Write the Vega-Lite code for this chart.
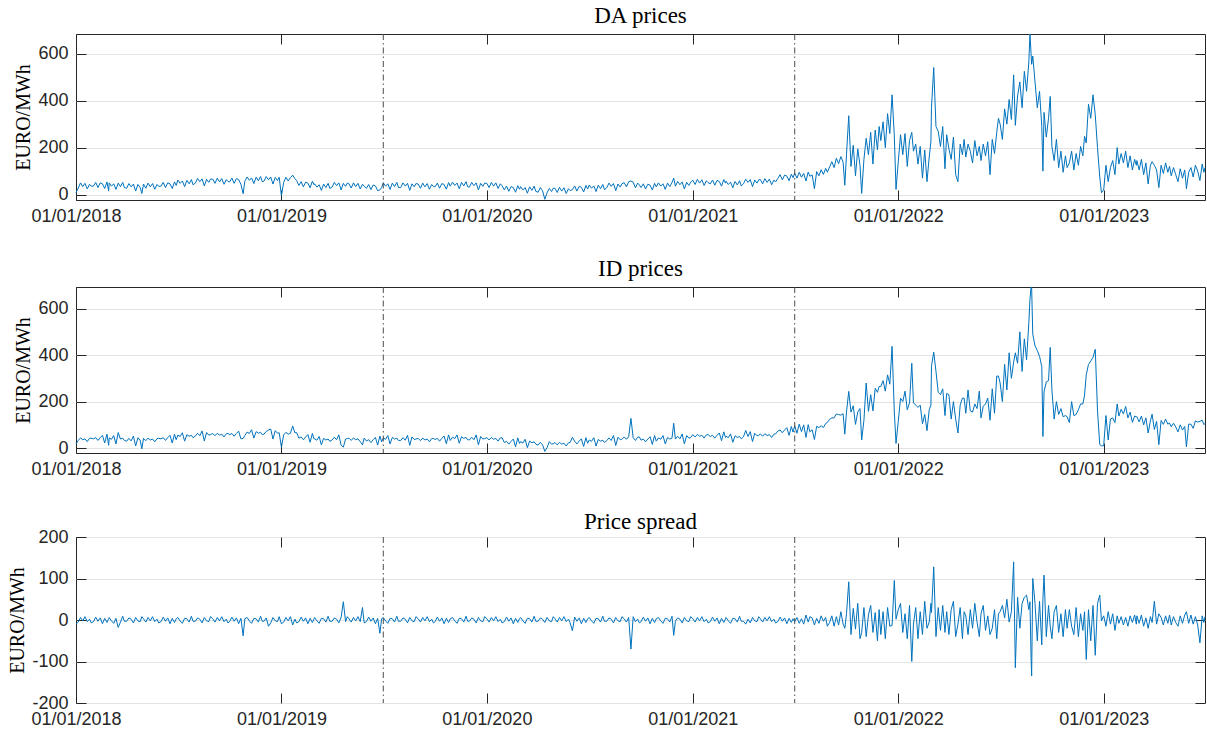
{
"$schema":"https://vega.github.io/schema/vega-lite/v6.json",
"background":"white",
"padding":{"left":7,"top":4,"right":1,"bottom":0},
"spacing":31,
"datasets":{
"vl":[{"t":"2019-07-01"},{"t":"2021-07-01"}],
"z":[{"v":0}],
"m":[
{"d":"2018-01-01","a":8,"b":18,"c":-10},{"d":"2018-01-05","a":28,"b":33,"c":-5},{"d":"2018-01-09","a":50,"b":44,"c":6},{"d":"2018-01-13","a":34,"b":36,"c":-2},{"d":"2018-01-17","a":48,"b":40,"c":8},{"d":"2018-01-21","a":24,"b":28,"c":-4},{"d":"2018-01-25","a":44,"b":42,"c":2},{"d":"2018-01-28","a":36,"b":43,"c":-7},
{"d":"2018-02-01","a":36,"b":40,"c":-4},{"d":"2018-02-05","a":52,"b":45,"c":7},{"d":"2018-02-09","a":30,"b":33,"c":-3},{"d":"2018-02-13","a":50,"b":45,"c":5},{"d":"2018-02-17","a":46,"b":55,"c":-9},{"d":"2018-02-21","a":26,"b":22,"c":4},{"d":"2018-02-25","a":54,"b":60,"c":-6},{"d":"2018-02-28","a":15,"b":12,"c":3},
{"d":"2018-03-01","a":50,"b":44,"c":6},{"d":"2018-03-05","a":36,"b":38,"c":-2},{"d":"2018-03-09","a":46,"b":54,"c":-8},{"d":"2018-03-13","a":22,"b":18,"c":4},{"d":"2018-03-17","a":49,"b":67,"c":-18},{"d":"2018-03-21","a":34,"b":39,"c":-5},{"d":"2018-03-25","a":52,"b":43,"c":9},{"d":"2018-03-28","a":30,"b":33,"c":-3},
{"d":"2018-04-01","a":27,"b":30,"c":-3},{"d":"2018-04-05","a":47,"b":42,"c":5},{"d":"2018-04-09","a":33,"b":31,"c":2},{"d":"2018-04-13","a":45,"b":52,"c":-7},{"d":"2018-04-17","a":15,"b":9,"c":6},{"d":"2018-04-21","a":43,"b":45,"c":-2},{"d":"2018-04-25","a":30,"b":34,"c":-4},{"d":"2018-04-28","a":5,"b":-3,"c":8},
{"d":"2018-05-01","a":45,"b":42,"c":3},{"d":"2018-05-05","a":27,"b":32,"c":-5},{"d":"2018-05-09","a":49,"b":43,"c":6},{"d":"2018-05-13","a":33,"b":35,"c":-2},{"d":"2018-05-17","a":47,"b":39,"c":8},{"d":"2018-05-21","a":23,"b":27,"c":-4},{"d":"2018-05-25","a":43,"b":41,"c":2},{"d":"2018-05-28","a":35,"b":42,"c":-7},
{"d":"2018-06-01","a":36,"b":40,"c":-4},{"d":"2018-06-05","a":52,"b":45,"c":7},{"d":"2018-06-09","a":30,"b":33,"c":-3},{"d":"2018-06-13","a":50,"b":45,"c":5},{"d":"2018-06-17","a":46,"b":55,"c":-9},{"d":"2018-06-21","a":26,"b":22,"c":4},{"d":"2018-06-25","a":54,"b":60,"c":-6},{"d":"2018-06-28","a":39,"b":36,"c":3},
{"d":"2018-07-01","a":62,"b":56,"c":6},{"d":"2018-07-05","a":48,"b":50,"c":-2},{"d":"2018-07-09","a":58,"b":66,"c":-8},{"d":"2018-07-13","a":34,"b":30,"c":4},{"d":"2018-07-17","a":61,"b":58,"c":3},{"d":"2018-07-21","a":46,"b":51,"c":-5},{"d":"2018-07-25","a":64,"b":55,"c":9},{"d":"2018-07-28","a":42,"b":45,"c":-3},
{"d":"2018-08-01","a":49,"b":52,"c":-3},{"d":"2018-08-05","a":69,"b":64,"c":5},{"d":"2018-08-09","a":55,"b":53,"c":2},{"d":"2018-08-13","a":67,"b":74,"c":-7},{"d":"2018-08-17","a":37,"b":31,"c":6},{"d":"2018-08-21","a":65,"b":67,"c":-2},{"d":"2018-08-25","a":52,"b":56,"c":-4},{"d":"2018-08-28","a":66,"b":58,"c":8},
{"d":"2018-09-01","a":66,"b":63,"c":3},{"d":"2018-09-05","a":48,"b":53,"c":-5},{"d":"2018-09-09","a":70,"b":64,"c":6},{"d":"2018-09-13","a":54,"b":56,"c":-2},{"d":"2018-09-17","a":68,"b":60,"c":8},{"d":"2018-09-21","a":44,"b":48,"c":-4},{"d":"2018-09-25","a":64,"b":62,"c":2},{"d":"2018-09-28","a":56,"b":63,"c":-7},
{"d":"2018-10-01","a":54,"b":58,"c":-4},{"d":"2018-10-05","a":70,"b":63,"c":7},{"d":"2018-10-09","a":48,"b":51,"c":-3},{"d":"2018-10-13","a":68,"b":63,"c":5},{"d":"2018-10-17","a":64,"b":73,"c":-9},{"d":"2018-10-21","a":44,"b":40,"c":4},{"d":"2018-10-25","a":4,"b":42,"c":-38},{"d":"2018-10-28","a":57,"b":54,"c":3},
{"d":"2018-11-01","a":75,"b":69,"c":6},{"d":"2018-11-05","a":61,"b":63,"c":-2},{"d":"2018-11-09","a":71,"b":79,"c":-8},{"d":"2018-11-13","a":47,"b":43,"c":4},{"d":"2018-11-17","a":74,"b":71,"c":3},{"d":"2018-11-21","a":59,"b":64,"c":-5},{"d":"2018-11-25","a":77,"b":68,"c":9},{"d":"2018-11-28","a":55,"b":58,"c":-3},
{"d":"2018-12-01","a":57,"b":60,"c":-3},{"d":"2018-12-05","a":77,"b":72,"c":5},{"d":"2018-12-09","a":63,"b":78,"c":-15},{"d":"2018-12-13","a":75,"b":82,"c":-7},{"d":"2018-12-17","a":45,"b":39,"c":6},{"d":"2018-12-21","a":73,"b":75,"c":-2},{"d":"2018-12-25","a":60,"b":64,"c":-4},{"d":"2018-12-28","a":74,"b":66,"c":8},
{"d":"2019-01-01","a":-5,"b":4,"c":-9},{"d":"2019-01-05","a":52,"b":57,"c":-5},{"d":"2019-01-09","a":74,"b":68,"c":6},{"d":"2019-01-13","a":58,"b":60,"c":-2},{"d":"2019-01-17","a":72,"b":64,"c":8},{"d":"2019-01-21","a":83,"b":95,"c":-12},{"d":"2019-01-25","a":68,"b":66,"c":2},{"d":"2019-01-28","a":60,"b":67,"c":-7},
{"d":"2019-02-01","a":39,"b":43,"c":-4},{"d":"2019-02-05","a":55,"b":48,"c":7},{"d":"2019-02-09","a":33,"b":36,"c":-3},{"d":"2019-02-13","a":53,"b":48,"c":5},{"d":"2019-02-17","a":49,"b":58,"c":-9},{"d":"2019-02-21","a":29,"b":25,"c":4},{"d":"2019-02-25","a":57,"b":63,"c":-6},{"d":"2019-02-28","a":42,"b":39,"c":3},
{"d":"2019-03-01","a":46,"b":40,"c":6},{"d":"2019-03-05","a":32,"b":34,"c":-2},{"d":"2019-03-09","a":42,"b":50,"c":-8},{"d":"2019-03-13","a":18,"b":14,"c":4},{"d":"2019-03-17","a":45,"b":42,"c":3},{"d":"2019-03-21","a":30,"b":35,"c":-5},{"d":"2019-03-25","a":48,"b":39,"c":9},{"d":"2019-03-28","a":26,"b":29,"c":-3},
{"d":"2019-04-01","a":32,"b":35,"c":-3},{"d":"2019-04-05","a":52,"b":47,"c":5},{"d":"2019-04-09","a":38,"b":36,"c":2},{"d":"2019-04-13","a":50,"b":57,"c":-7},{"d":"2019-04-17","a":20,"b":14,"c":6},{"d":"2019-04-21","a":48,"b":4,"c":44},{"d":"2019-04-25","a":35,"b":39,"c":-4},{"d":"2019-04-28","a":49,"b":41,"c":8},
{"d":"2019-05-01","a":46,"b":43,"c":3},{"d":"2019-05-05","a":28,"b":33,"c":-5},{"d":"2019-05-09","a":50,"b":44,"c":6},{"d":"2019-05-13","a":34,"b":36,"c":-2},{"d":"2019-05-17","a":48,"b":40,"c":8},{"d":"2019-05-21","a":24,"b":28,"c":-4},{"d":"2019-05-25","a":44,"b":14,"c":30},{"d":"2019-05-28","a":36,"b":43,"c":-7},
{"d":"2019-06-01","a":27,"b":31,"c":-4},{"d":"2019-06-05","a":43,"b":36,"c":7},{"d":"2019-06-09","a":21,"b":24,"c":-3},{"d":"2019-06-13","a":41,"b":36,"c":5},{"d":"2019-06-17","a":37,"b":46,"c":-9},{"d":"2019-06-21","a":17,"b":13,"c":4},{"d":"2019-06-25","a":20,"b":52,"c":-32},{"d":"2019-06-28","a":30,"b":27,"c":3},
{"d":"2019-07-01","a":50,"b":44,"c":6},{"d":"2019-07-05","a":36,"b":38,"c":-2},{"d":"2019-07-09","a":46,"b":54,"c":-8},{"d":"2019-07-13","a":22,"b":18,"c":4},{"d":"2019-07-17","a":49,"b":46,"c":3},{"d":"2019-07-21","a":34,"b":39,"c":-5},{"d":"2019-07-25","a":52,"b":43,"c":9},{"d":"2019-07-28","a":30,"b":33,"c":-3},
{"d":"2019-08-01","a":30,"b":33,"c":-3},{"d":"2019-08-05","a":50,"b":45,"c":5},{"d":"2019-08-09","a":36,"b":34,"c":2},{"d":"2019-08-13","a":48,"b":55,"c":-7},{"d":"2019-08-17","a":18,"b":12,"c":6},{"d":"2019-08-21","a":46,"b":48,"c":-2},{"d":"2019-08-25","a":33,"b":37,"c":-4},{"d":"2019-08-28","a":47,"b":39,"c":8},
{"d":"2019-09-01","a":45,"b":42,"c":3},{"d":"2019-09-05","a":27,"b":32,"c":-5},{"d":"2019-09-09","a":49,"b":43,"c":6},{"d":"2019-09-13","a":33,"b":35,"c":-2},{"d":"2019-09-17","a":47,"b":39,"c":8},{"d":"2019-09-21","a":23,"b":27,"c":-4},{"d":"2019-09-25","a":43,"b":41,"c":2},{"d":"2019-09-28","a":35,"b":42,"c":-7},
{"d":"2019-10-01","a":33,"b":37,"c":-4},{"d":"2019-10-05","a":49,"b":42,"c":7},{"d":"2019-10-09","a":27,"b":30,"c":-3},{"d":"2019-10-13","a":47,"b":42,"c":5},{"d":"2019-10-17","a":43,"b":52,"c":-9},{"d":"2019-10-21","a":23,"b":19,"c":4},{"d":"2019-10-25","a":51,"b":57,"c":-6},{"d":"2019-10-28","a":36,"b":33,"c":3},
{"d":"2019-11-01","a":53,"b":47,"c":6},{"d":"2019-11-05","a":39,"b":41,"c":-2},{"d":"2019-11-09","a":49,"b":57,"c":-8},{"d":"2019-11-13","a":25,"b":21,"c":4},{"d":"2019-11-17","a":52,"b":49,"c":3},{"d":"2019-11-21","a":37,"b":42,"c":-5},{"d":"2019-11-25","a":55,"b":46,"c":9},{"d":"2019-11-28","a":33,"b":36,"c":-3},
{"d":"2019-12-01","a":32,"b":35,"c":-3},{"d":"2019-12-05","a":52,"b":47,"c":5},{"d":"2019-12-09","a":38,"b":36,"c":2},{"d":"2019-12-13","a":50,"b":57,"c":-7},{"d":"2019-12-17","a":20,"b":14,"c":6},{"d":"2019-12-21","a":48,"b":50,"c":-2},{"d":"2019-12-25","a":35,"b":39,"c":-4},{"d":"2019-12-28","a":49,"b":41,"c":8},
{"d":"2020-01-01","a":48,"b":45,"c":3},{"d":"2020-01-05","a":30,"b":35,"c":-5},{"d":"2020-01-09","a":52,"b":46,"c":6},{"d":"2020-01-13","a":36,"b":38,"c":-2},{"d":"2020-01-17","a":50,"b":42,"c":8},{"d":"2020-01-21","a":26,"b":30,"c":-4},{"d":"2020-01-25","a":46,"b":44,"c":2},{"d":"2020-01-28","a":38,"b":45,"c":-7},
{"d":"2020-02-01","a":20,"b":24,"c":-4},{"d":"2020-02-05","a":36,"b":29,"c":7},{"d":"2020-02-09","a":14,"b":17,"c":-3},{"d":"2020-02-13","a":34,"b":29,"c":5},{"d":"2020-02-17","a":30,"b":39,"c":-9},{"d":"2020-02-21","a":10,"b":6,"c":4},{"d":"2020-02-25","a":38,"b":44,"c":-6},{"d":"2020-02-28","a":23,"b":20,"c":3},
{"d":"2020-03-01","a":34,"b":28,"c":6},{"d":"2020-03-05","a":20,"b":22,"c":-2},{"d":"2020-03-09","a":30,"b":38,"c":-8},{"d":"2020-03-13","a":6,"b":2,"c":4},{"d":"2020-03-17","a":33,"b":30,"c":3},{"d":"2020-03-21","a":18,"b":23,"c":-5},{"d":"2020-03-25","a":36,"b":27,"c":9},{"d":"2020-03-28","a":14,"b":17,"c":-3},
{"d":"2020-04-01","a":10,"b":13,"c":-3},{"d":"2020-04-05","a":30,"b":25,"c":5},{"d":"2020-04-09","a":16,"b":14,"c":2},{"d":"2020-04-13","a":-20,"b":-14,"c":-6},{"d":"2020-04-17","a":8,"b":2,"c":6},{"d":"2020-04-21","a":26,"b":28,"c":-2},{"d":"2020-04-25","a":13,"b":17,"c":-4},{"d":"2020-04-28","a":27,"b":19,"c":8},
{"d":"2020-05-01","a":27,"b":24,"c":3},{"d":"2020-05-05","a":9,"b":14,"c":-5},{"d":"2020-05-09","a":31,"b":25,"c":6},{"d":"2020-05-13","a":15,"b":17,"c":-2},{"d":"2020-05-17","a":29,"b":21,"c":8},{"d":"2020-05-21","a":5,"b":9,"c":-4},{"d":"2020-05-25","a":25,"b":23,"c":2},{"d":"2020-05-28","a":17,"b":24,"c":-7},
{"d":"2020-06-01","a":21,"b":47,"c":-26},{"d":"2020-06-05","a":37,"b":30,"c":7},{"d":"2020-06-09","a":15,"b":18,"c":-3},{"d":"2020-06-13","a":35,"b":30,"c":5},{"d":"2020-06-17","a":31,"b":40,"c":-9},{"d":"2020-06-21","a":11,"b":7,"c":4},{"d":"2020-06-25","a":39,"b":45,"c":-6},{"d":"2020-06-28","a":24,"b":21,"c":3},
{"d":"2020-07-01","a":41,"b":35,"c":6},{"d":"2020-07-05","a":27,"b":29,"c":-2},{"d":"2020-07-09","a":37,"b":45,"c":-8},{"d":"2020-07-13","a":13,"b":9,"c":4},{"d":"2020-07-17","a":40,"b":37,"c":3},{"d":"2020-07-21","a":25,"b":30,"c":-5},{"d":"2020-07-25","a":43,"b":34,"c":9},{"d":"2020-07-28","a":21,"b":24,"c":-3},
{"d":"2020-08-01","a":29,"b":32,"c":-3},{"d":"2020-08-05","a":49,"b":44,"c":5},{"d":"2020-08-09","a":35,"b":33,"c":2},{"d":"2020-08-13","a":47,"b":54,"c":-7},{"d":"2020-08-17","a":17,"b":11,"c":6},{"d":"2020-08-21","a":45,"b":47,"c":-2},{"d":"2020-08-25","a":32,"b":36,"c":-4},{"d":"2020-08-28","a":46,"b":38,"c":8},
{"d":"2020-09-01","a":51,"b":48,"c":3},{"d":"2020-09-05","a":33,"b":38,"c":-5},{"d":"2020-09-09","a":55,"b":49,"c":6},{"d":"2020-09-13","a":58,"b":128,"c":-70},{"d":"2020-09-17","a":53,"b":45,"c":8},{"d":"2020-09-21","a":29,"b":33,"c":-4},{"d":"2020-09-25","a":49,"b":47,"c":2},{"d":"2020-09-28","a":41,"b":48,"c":-7},
{"d":"2020-10-01","a":30,"b":34,"c":-4},{"d":"2020-10-05","a":46,"b":39,"c":7},{"d":"2020-10-09","a":24,"b":27,"c":-3},{"d":"2020-10-13","a":44,"b":39,"c":5},{"d":"2020-10-17","a":40,"b":49,"c":-9},{"d":"2020-10-21","a":20,"b":16,"c":4},{"d":"2020-10-25","a":48,"b":54,"c":-6},{"d":"2020-10-28","a":33,"b":30,"c":3},
{"d":"2020-11-01","a":50,"b":44,"c":6},{"d":"2020-11-05","a":36,"b":38,"c":-2},{"d":"2020-11-09","a":46,"b":54,"c":-8},{"d":"2020-11-13","a":22,"b":18,"c":4},{"d":"2020-11-17","a":49,"b":46,"c":3},{"d":"2020-11-21","a":34,"b":39,"c":-5},{"d":"2020-11-25","a":52,"b":43,"c":9},{"d":"2020-11-28","a":70,"b":107,"c":-37},
{"d":"2020-12-01","a":36,"b":39,"c":-3},{"d":"2020-12-05","a":56,"b":51,"c":5},{"d":"2020-12-09","a":42,"b":40,"c":2},{"d":"2020-12-13","a":54,"b":61,"c":-7},{"d":"2020-12-17","a":24,"b":18,"c":6},{"d":"2020-12-21","a":52,"b":54,"c":-2},{"d":"2020-12-25","a":39,"b":43,"c":-4},{"d":"2020-12-28","a":53,"b":45,"c":8},
{"d":"2021-01-01","a":61,"b":58,"c":3},{"d":"2021-01-05","a":43,"b":48,"c":-5},{"d":"2021-01-09","a":65,"b":59,"c":6},{"d":"2021-01-13","a":49,"b":51,"c":-2},{"d":"2021-01-17","a":63,"b":55,"c":8},{"d":"2021-01-21","a":39,"b":43,"c":-4},{"d":"2021-01-25","a":59,"b":57,"c":2},{"d":"2021-01-28","a":51,"b":58,"c":-7},
{"d":"2021-02-01","a":46,"b":50,"c":-4},{"d":"2021-02-05","a":62,"b":55,"c":7},{"d":"2021-02-09","a":40,"b":43,"c":-3},{"d":"2021-02-13","a":60,"b":55,"c":5},{"d":"2021-02-17","a":56,"b":65,"c":-9},{"d":"2021-02-21","a":36,"b":32,"c":4},{"d":"2021-02-25","a":64,"b":70,"c":-6},{"d":"2021-02-28","a":49,"b":46,"c":3},
{"d":"2021-03-01","a":57,"b":51,"c":6},{"d":"2021-03-05","a":43,"b":45,"c":-2},{"d":"2021-03-09","a":53,"b":61,"c":-8},{"d":"2021-03-13","a":29,"b":25,"c":4},{"d":"2021-03-17","a":56,"b":53,"c":3},{"d":"2021-03-21","a":41,"b":46,"c":-5},{"d":"2021-03-25","a":59,"b":50,"c":9},{"d":"2021-03-28","a":37,"b":40,"c":-3},
{"d":"2021-04-01","a":46,"b":49,"c":-3},{"d":"2021-04-05","a":66,"b":76,"c":-10},{"d":"2021-04-09","a":52,"b":50,"c":2},{"d":"2021-04-13","a":64,"b":71,"c":-7},{"d":"2021-04-17","a":34,"b":28,"c":6},{"d":"2021-04-21","a":62,"b":64,"c":-2},{"d":"2021-04-25","a":49,"b":53,"c":-4},{"d":"2021-04-28","a":63,"b":55,"c":8},
{"d":"2021-05-01","a":64,"b":61,"c":3},{"d":"2021-05-05","a":46,"b":51,"c":-5},{"d":"2021-05-09","a":68,"b":62,"c":6},{"d":"2021-05-13","a":52,"b":54,"c":-2},{"d":"2021-05-17","a":66,"b":58,"c":8},{"d":"2021-05-21","a":42,"b":46,"c":-4},{"d":"2021-05-25","a":62,"b":60,"c":2},{"d":"2021-05-28","a":54,"b":61,"c":-7},
{"d":"2021-06-01","a":69,"b":73,"c":-4},{"d":"2021-06-05","a":85,"b":78,"c":7},{"d":"2021-06-09","a":63,"b":66,"c":-3},{"d":"2021-06-13","a":83,"b":78,"c":5},{"d":"2021-06-17","a":79,"b":88,"c":-9},{"d":"2021-06-21","a":59,"b":55,"c":4},{"d":"2021-06-25","a":87,"b":93,"c":-6},{"d":"2021-06-28","a":72,"b":69,"c":3},
{"d":"2021-07-01","a":92,"b":96,"c":-4},{"d":"2021-07-05","a":70,"b":64,"c":6},{"d":"2021-07-09","a":95,"b":103,"c":-8},{"d":"2021-07-13","a":74,"b":71,"c":3},{"d":"2021-07-17","a":90,"b":100,"c":-10},{"d":"2021-07-21","a":58,"b":46,"c":12},{"d":"2021-07-25","a":96,"b":101,"c":-5},{"d":"2021-07-28","a":78,"b":70,"c":8},
{"d":"2021-08-01","a":84,"b":79,"c":5},{"d":"2021-08-05","a":25,"b":37,"c":-12},{"d":"2021-08-09","a":98,"b":94,"c":4},{"d":"2021-08-13","a":80,"b":88,"c":-8},{"d":"2021-08-17","a":106,"b":96,"c":10},{"d":"2021-08-21","a":86,"b":89,"c":-3},{"d":"2021-08-25","a":112,"b":106,"c":6},{"d":"2021-08-28","a":95,"b":110,"c":-15},
{"d":"2021-09-01","a":118,"b":124,"c":-6},{"d":"2021-09-05","a":140,"b":130,"c":10},{"d":"2021-09-09","a":115,"b":130,"c":-15},{"d":"2021-09-13","a":155,"b":147,"c":8},{"d":"2021-09-17","a":132,"b":144,"c":-12},{"d":"2021-09-21","a":162,"b":142,"c":20},{"d":"2021-09-25","a":138,"b":148,"c":-10},{"d":"2021-09-28","a":40,"b":60,"c":-20},
{"d":"2021-10-01","a":170,"b":155,"c":15},{"d":"2021-10-05","a":336,"b":244,"c":92},{"d":"2021-10-09","a":120,"b":155,"c":-35},{"d":"2021-10-13","a":210,"b":182,"c":28},{"d":"2021-10-17","a":80,"b":102,"c":-22},{"d":"2021-10-21","a":195,"b":155,"c":40},{"d":"2021-10-25","a":125,"b":170,"c":-45},{"d":"2021-10-28","a":5,"b":35,"c":-30},
{"d":"2021-11-01","a":150,"b":120,"c":30},{"d":"2021-11-05","a":240,"b":280,"c":-40},{"d":"2021-11-09","a":170,"b":158,"c":12},{"d":"2021-11-13","a":265,"b":230,"c":35},{"d":"2021-11-17","a":130,"b":160,"c":-30},{"d":"2021-11-21","a":275,"b":257,"c":18},{"d":"2021-11-25","a":190,"b":240,"c":-50},{"d":"2021-11-28","a":290,"b":265,"c":25},
{"d":"2021-12-01","a":230,"b":265,"c":-35},{"d":"2021-12-05","a":310,"b":290,"c":20},{"d":"2021-12-09","a":200,"b":245,"c":-45},{"d":"2021-12-13","a":345,"b":315,"c":30},{"d":"2021-12-17","a":260,"b":275,"c":-15},{"d":"2021-12-21","a":425,"b":438,"c":-13},{"d":"2021-12-25","a":250,"b":155,"c":95},{"d":"2021-12-28","a":22,"b":20,"c":2},
{"d":"2022-01-01","a":140,"b":115,"c":25},{"d":"2022-01-05","a":255,"b":215,"c":40},{"d":"2022-01-09","a":170,"b":200,"c":-30},{"d":"2022-01-13","a":260,"b":245,"c":15},{"d":"2022-01-17","a":120,"b":165,"c":-45},{"d":"2022-01-21","a":230,"b":195,"c":35},{"d":"2022-01-25","a":265,"b":365,"c":-100},{"d":"2022-01-28","a":185,"b":195,"c":-10},
{"d":"2022-02-01","a":215,"b":185,"c":30},{"d":"2022-02-05","a":130,"b":175,"c":-45},{"d":"2022-02-09","a":205,"b":185,"c":20},{"d":"2022-02-13","a":70,"b":105,"c":-35},{"d":"2022-02-17","a":190,"b":145,"c":45},{"d":"2022-02-21","a":55,"b":75,"c":-20},{"d":"2022-02-25","a":160,"b":165,"c":-5},{"d":"2022-02-28","a":225,"b":185,"c":40},
{"d":"2022-03-01","a":370,"b":352,"c":18},{"d":"2022-03-05","a":541,"b":413,"c":128},{"d":"2022-03-09","a":290,"b":330,"c":-40},{"d":"2022-03-13","a":270,"b":240,"c":30},{"d":"2022-03-17","a":205,"b":230,"c":-25},{"d":"2022-03-21","a":290,"b":255,"c":35},{"d":"2022-03-25","a":110,"b":140,"c":-30},{"d":"2022-03-28","a":255,"b":235,"c":20},
{"d":"2022-04-01","a":195,"b":230,"c":-35},{"d":"2022-04-05","a":150,"b":125,"c":25},{"d":"2022-04-09","a":245,"b":200,"c":45},{"d":"2022-04-13","a":85,"b":125,"c":-40},{"d":"2022-04-17","a":55,"b":65,"c":-10},{"d":"2022-04-21","a":215,"b":185,"c":30},{"d":"2022-04-25","a":170,"b":215,"c":-45},{"d":"2022-04-28","a":235,"b":215,"c":20},
{"d":"2022-05-01","a":160,"b":150,"c":10},{"d":"2022-05-05","a":215,"b":250,"c":-35},{"d":"2022-05-09","a":185,"b":160,"c":25},{"d":"2022-05-13","a":135,"b":155,"c":-20},{"d":"2022-05-17","a":230,"b":190,"c":40},{"d":"2022-05-21","a":165,"b":170,"c":-5},{"d":"2022-05-25","a":205,"b":245,"c":-40},{"d":"2022-05-28","a":145,"b":130,"c":15},
{"d":"2022-06-01","a":215,"b":180,"c":35},{"d":"2022-06-05","a":165,"b":190,"c":-25},{"d":"2022-06-09","a":225,"b":215,"c":10},{"d":"2022-06-13","a":85,"b":120,"c":-35},{"d":"2022-06-17","a":235,"b":255,"c":-20},{"d":"2022-06-21","a":175,"b":150,"c":25},{"d":"2022-06-25","a":265,"b":310,"c":-45},{"d":"2022-06-28","a":325,"b":310,"c":15},
{"d":"2022-07-01","a":300,"b":280,"c":20},{"d":"2022-07-05","a":235,"b":200,"c":35},{"d":"2022-07-09","a":365,"b":360,"c":5},{"d":"2022-07-13","a":300,"b":250,"c":50},{"d":"2022-07-17","a":405,"b":410,"c":-5},{"d":"2022-07-21","a":320,"b":300,"c":20},{"d":"2022-07-25","a":510,"b":370,"c":140},{"d":"2022-07-28","a":295,"b":410,"c":-115},
{"d":"2022-08-01","a":420,"b":365,"c":55},{"d":"2022-08-05","a":480,"b":500,"c":-20},{"d":"2022-08-09","a":370,"b":330,"c":40},{"d":"2022-08-13","a":525,"b":470,"c":55},{"d":"2022-08-17","a":440,"b":380,"c":60},{"d":"2022-08-21","a":565,"b":540,"c":25},{"d":"2022-08-23","a":684,"b":640,"c":44},{"d":"2022-08-25","a":600,"b":693,"c":-93},{"d":"2022-08-26","a":555,"b":690,"c":-135},{"d":"2022-08-28","a":590,"b":490,"c":100},
{"d":"2022-09-01","a":480,"b":440,"c":40},{"d":"2022-09-05","a":370,"b":420,"c":-50},{"d":"2022-09-09","a":440,"b":395,"c":45},{"d":"2022-09-13","a":290,"b":350,"c":-60},{"d":"2022-09-15","a":100,"b":50,"c":50},{"d":"2022-09-17","a":350,"b":242,"c":108},{"d":"2022-09-21","a":245,"b":285,"c":-40},{"d":"2022-09-25","a":325,"b":290,"c":35},{"d":"2022-09-28","a":418,"b":433,"c":-15},
{"d":"2022-10-01","a":205,"b":250,"c":-45},{"d":"2022-10-05","a":145,"b":125,"c":20},{"d":"2022-10-09","a":235,"b":200,"c":35},{"d":"2022-10-13","a":115,"b":145,"c":-30},{"d":"2022-10-17","a":185,"b":170,"c":15},{"d":"2022-10-21","a":95,"b":135,"c":-40},{"d":"2022-10-25","a":165,"b":140,"c":25},{"d":"2022-10-28","a":115,"b":135,"c":-20},
{"d":"2022-11-01","a":135,"b":110,"c":25},{"d":"2022-11-05","a":185,"b":200,"c":-15},{"d":"2022-11-09","a":105,"b":140,"c":-35},{"d":"2022-11-13","a":175,"b":145,"c":30},{"d":"2022-11-17","a":125,"b":165,"c":-40},{"d":"2022-11-21","a":205,"b":190,"c":15},{"d":"2022-11-25","a":165,"b":190,"c":-25},{"d":"2022-11-28","a":248,"b":228,"c":20},
{"d":"2022-12-01","a":220,"b":315,"c":-95},{"d":"2022-12-05","a":385,"b":360,"c":25},{"d":"2022-12-09","a":325,"b":375,"c":-50},{"d":"2022-12-13","a":425,"b":390,"c":35},{"d":"2022-12-17","a":340,"b":425,"c":-85},{"d":"2022-12-21","a":200,"b":160,"c":40},{"d":"2022-12-25","a":75,"b":15,"c":60},{"d":"2022-12-28","a":8,"b":10,"c":-2},
{"d":"2023-01-01","a":20,"b":10,"c":10},{"d":"2023-01-05","a":125,"b":140,"c":-15},{"d":"2023-01-09","a":55,"b":35,"c":20},{"d":"2023-01-13","a":115,"b":125,"c":-10},{"d":"2023-01-17","a":145,"b":130,"c":15},{"d":"2023-01-21","a":85,"b":110,"c":-25},{"d":"2023-01-25","a":200,"b":190,"c":10},{"d":"2023-01-28","a":130,"b":138,"c":-8},
{"d":"2023-02-01","a":175,"b":167,"c":8},{"d":"2023-02-05","a":135,"b":147,"c":-12},{"d":"2023-02-09","a":185,"b":179,"c":6},{"d":"2023-02-13","a":115,"b":130,"c":-15},{"d":"2023-02-17","a":165,"b":155,"c":10},{"d":"2023-02-21","a":105,"b":111,"c":-6},{"d":"2023-02-25","a":150,"b":138,"c":12},{"d":"2023-02-28","a":125,"b":135,"c":-10},
{"d":"2023-03-01","a":145,"b":135,"c":10},{"d":"2023-03-05","a":105,"b":113,"c":-8},{"d":"2023-03-09","a":150,"b":138,"c":12},{"d":"2023-03-13","a":85,"b":100,"c":-15},{"d":"2023-03-17","a":135,"b":130,"c":5},{"d":"2023-03-21","a":45,"b":65,"c":-20},{"d":"2023-03-25","a":125,"b":117,"c":8},{"d":"2023-03-28","a":140,"b":146,"c":-6},
{"d":"2023-04-01","a":125,"b":80,"c":45},{"d":"2023-04-05","a":105,"b":115,"c":-10},{"d":"2023-04-09","a":30,"b":15,"c":15},{"d":"2023-04-13","a":125,"b":119,"c":6},{"d":"2023-04-17","a":90,"b":102,"c":-12},{"d":"2023-04-21","a":135,"b":125,"c":10},{"d":"2023-04-25","a":95,"b":103,"c":-8},{"d":"2023-04-28","a":120,"b":108,"c":12},
{"d":"2023-05-01","a":80,"b":92,"c":-12},{"d":"2023-05-05","a":115,"b":107,"c":8},{"d":"2023-05-09","a":85,"b":91,"c":-6},{"d":"2023-05-13","a":55,"b":70,"c":-15},{"d":"2023-05-17","a":110,"b":100,"c":10},{"d":"2023-05-21","a":70,"b":78,"c":-8},{"d":"2023-05-25","a":105,"b":93,"c":12},{"d":"2023-05-28","a":25,"b":5,"c":20},
{"d":"2023-06-01","a":95,"b":103,"c":-8},{"d":"2023-06-05","a":115,"b":103,"c":12},{"d":"2023-06-09","a":75,"b":85,"c":-10},{"d":"2023-06-13","a":125,"b":117,"c":8},{"d":"2023-06-17","a":100,"b":112,"c":-12},{"d":"2023-06-21","a":60,"b":115,"c":-55},{"d":"2023-06-25","a":130,"b":120,"c":10},{"d":"2023-06-28","a":95,"b":101,"c":-6},{"d":"2023-06-30","a":115,"b":107,"c":8}
]},
"config":{
"view":{"stroke":"#262626","strokeWidth":1},
"font":"Liberation Sans",
"title":{"font":"Liberation Serif","fontSize":23,"fontWeight":"normal","color":"#000000","offset":4,"anchor":"middle"},
"axis":{"labelFont":"Liberation Sans","labelFontSize":18,"labelColor":"#262626","tickColor":"#262626","tickWidth":1,"titleFont":"Liberation Serif","titleFontSize":20,"titleFontWeight":"normal","titleColor":"#000000","domain":false,"labelFlush":false,"labelOverlap":false}
},
"vconcat":[
{"width":1129,"height":166,"title":"DA prices",
"layer":[
{"data":{"name":"m"},"mark":{"type":"line","color":"#0072BD","strokeWidth":1},
"encoding":{
"x":{"field":"d","type":"temporal","scale":{"type":"utc","domain":[{"year":2018,"month":1,"date":1,"utc":true},{"year":2023,"month":6,"date":30,"utc":true}]},"axis":{"orient":"bottom","values":[{"year":2018,"month":1,"date":1,"utc":true},{"year":2019,"month":1,"date":1,"utc":true},{"year":2020,"month":1,"date":1,"utc":true},{"year":2021,"month":1,"date":1,"utc":true},{"year":2022,"month":1,"date":1,"utc":true},{"year":2023,"month":1,"date":1,"utc":true}],"labelExpr":"utcFormat(datum.value, '%d/%m/%Y')","tickSize":-10,"labelPadding":17,"grid":false,"title":null}},
"y":{"field":"a","type":"quantitative","scale":{"domain":[-23,684],"nice":false,"zero":false},"axis":{"orient":"left","values":[0,200,400,600],"labelExpr":"'' + datum.value","tickSize":-10,"labelPadding":18,"grid":true,"gridColor":"#e3e3e3","title":"EURO/MWh","titlePadding":4}}}},
{"data":{"name":"vl"},"mark":{"type":"rule","color":"#4d4d4d","strokeWidth":1,"strokeDash":[6,3,1.5,3]},
"encoding":{"x":{"field":"t","type":"temporal","scale":{"type":"utc","domain":[{"year":2018,"month":1,"date":1,"utc":true},{"year":2023,"month":6,"date":30,"utc":true}]},"axis":{"orient":"top","values":[{"year":2018,"month":1,"date":1,"utc":true},{"year":2019,"month":1,"date":1,"utc":true},{"year":2020,"month":1,"date":1,"utc":true},{"year":2021,"month":1,"date":1,"utc":true},{"year":2022,"month":1,"date":1,"utc":true},{"year":2023,"month":1,"date":1,"utc":true}],"tickSize":-10,"labels":false,"grid":false,"title":null}}}},
{"data":{"name":"z"},"mark":{"type":"rule","opacity":0},
"encoding":{"y":{"field":"v","type":"quantitative","scale":{"domain":[-23,684],"nice":false,"zero":false},"axis":{"orient":"right","values":[0,200,400,600],"tickSize":-10,"labels":false,"grid":false,"title":null}}}}
],
"resolve":{"axis":{"x":"independent","y":"independent"}}},
{"width":1129,"height":166,"title":"ID prices",
"layer":[
{"data":{"name":"m"},"mark":{"type":"line","color":"#0072BD","strokeWidth":1},
"encoding":{
"x":{"field":"d","type":"temporal","scale":{"type":"utc","domain":[{"year":2018,"month":1,"date":1,"utc":true},{"year":2023,"month":6,"date":30,"utc":true}]},"axis":{"orient":"bottom","values":[{"year":2018,"month":1,"date":1,"utc":true},{"year":2019,"month":1,"date":1,"utc":true},{"year":2020,"month":1,"date":1,"utc":true},{"year":2021,"month":1,"date":1,"utc":true},{"year":2022,"month":1,"date":1,"utc":true},{"year":2023,"month":1,"date":1,"utc":true}],"labelExpr":"utcFormat(datum.value, '%d/%m/%Y')","tickSize":-10,"labelPadding":17,"grid":false,"title":null}},
"y":{"field":"b","type":"quantitative","scale":{"domain":[-21,693],"nice":false,"zero":false},"axis":{"orient":"left","values":[0,200,400,600],"labelExpr":"'' + datum.value","tickSize":-10,"labelPadding":18,"grid":true,"gridColor":"#e3e3e3","title":"EURO/MWh","titlePadding":4}}}},
{"data":{"name":"vl"},"mark":{"type":"rule","color":"#4d4d4d","strokeWidth":1,"strokeDash":[6,3,1.5,3]},
"encoding":{"x":{"field":"t","type":"temporal","scale":{"type":"utc","domain":[{"year":2018,"month":1,"date":1,"utc":true},{"year":2023,"month":6,"date":30,"utc":true}]},"axis":{"orient":"top","values":[{"year":2018,"month":1,"date":1,"utc":true},{"year":2019,"month":1,"date":1,"utc":true},{"year":2020,"month":1,"date":1,"utc":true},{"year":2021,"month":1,"date":1,"utc":true},{"year":2022,"month":1,"date":1,"utc":true},{"year":2023,"month":1,"date":1,"utc":true}],"tickSize":-10,"labels":false,"grid":false,"title":null}}}},
{"data":{"name":"z"},"mark":{"type":"rule","opacity":0},
"encoding":{"y":{"field":"v","type":"quantitative","scale":{"domain":[-21,693],"nice":false,"zero":false},"axis":{"orient":"right","values":[0,200,400,600],"tickSize":-10,"labels":false,"grid":false,"title":null}}}}
],
"resolve":{"axis":{"x":"independent","y":"independent"}}},
{"width":1129,"height":166,"title":{"text":"Price spread","offset":-6},
"layer":[
{"data":{"name":"m"},"mark":{"type":"line","color":"#0072BD","strokeWidth":1},
"encoding":{
"x":{"field":"d","type":"temporal","scale":{"type":"utc","domain":[{"year":2018,"month":1,"date":1,"utc":true},{"year":2023,"month":6,"date":30,"utc":true}]},"axis":{"orient":"bottom","values":[{"year":2018,"month":1,"date":1,"utc":true},{"year":2019,"month":1,"date":1,"utc":true},{"year":2020,"month":1,"date":1,"utc":true},{"year":2021,"month":1,"date":1,"utc":true},{"year":2022,"month":1,"date":1,"utc":true},{"year":2023,"month":1,"date":1,"utc":true}],"labelExpr":"utcFormat(datum.value, '%d/%m/%Y')","tickSize":-10,"labelPadding":17,"grid":false,"title":null}},
"y":{"field":"c","type":"quantitative","scale":{"domain":[-200,200],"nice":false,"zero":false},"axis":{"orient":"left","values":[-200,-100,0,100,200],"labelExpr":"'' + datum.value","tickSize":-10,"labelPadding":18,"grid":true,"gridColor":"#e3e3e3","title":"EURO/MWh","titlePadding":4}}}},
{"data":{"name":"vl"},"mark":{"type":"rule","color":"#4d4d4d","strokeWidth":1,"strokeDash":[6,3,1.5,3]},
"encoding":{"x":{"field":"t","type":"temporal","scale":{"type":"utc","domain":[{"year":2018,"month":1,"date":1,"utc":true},{"year":2023,"month":6,"date":30,"utc":true}]},"axis":{"orient":"top","values":[{"year":2018,"month":1,"date":1,"utc":true},{"year":2019,"month":1,"date":1,"utc":true},{"year":2020,"month":1,"date":1,"utc":true},{"year":2021,"month":1,"date":1,"utc":true},{"year":2022,"month":1,"date":1,"utc":true},{"year":2023,"month":1,"date":1,"utc":true}],"tickSize":-10,"labels":false,"grid":false,"title":null}}}},
{"data":{"name":"z"},"mark":{"type":"rule","opacity":0},
"encoding":{"y":{"field":"v","type":"quantitative","scale":{"domain":[-200,200],"nice":false,"zero":false},"axis":{"orient":"right","values":[-200,-100,0,100,200],"tickSize":-10,"labels":false,"grid":false,"title":null}}}}
],
"resolve":{"axis":{"x":"independent","y":"independent"}}}
]
}
